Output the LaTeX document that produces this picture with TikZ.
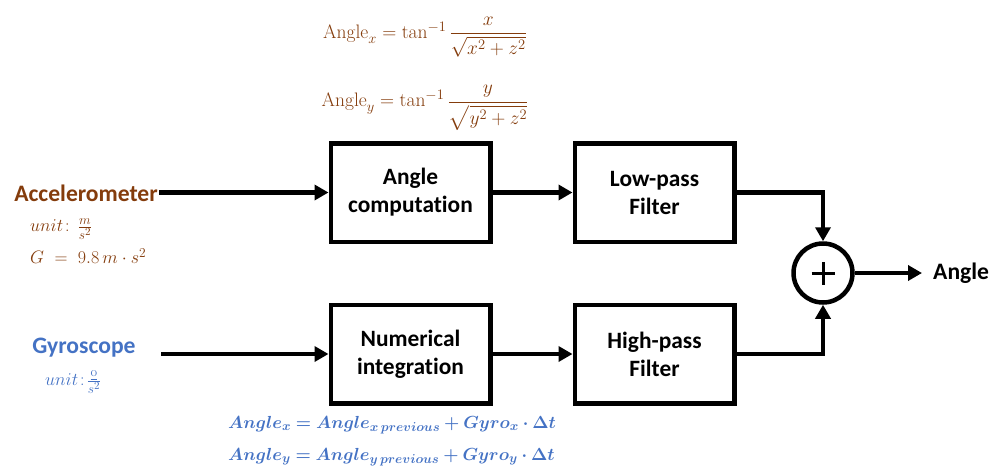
\RequirePackage{fix-cm}
\documentclass[tikz,border=0pt]{standalone}
\usepackage{amsmath}
\usepackage{bm}
\usepackage{fontspec}
\usetikzlibrary{arrows.meta}
\DeclareMathSizes{18}{18}{13.5}{11}
\DeclareMathSizes{19.5}{19.5}{14.5}{11.5}
\DeclareMathSizes{17.5}{17.5}{13}{10}
\newfontfamily\carl[Ligatures=NoCommon]{Carlito}
\definecolor{brn}{HTML}{843C0C}
\definecolor{blu}{HTML}{4472C4}
\begin{document}
\begin{tikzpicture}[x=1pt,y=-1pt,
  box/.style={draw, line width=4.5pt, minimum width=159.5pt, minimum height=98.5pt,
    align=center, inner sep=0pt, font=\carl\bfseries\fontsize{23.4}{28}\selectfont},
  lbl/.style={inner sep=1pt, font=\carl\bfseries\fontsize{23.6}{28}\selectfont},
  conn/.style={line width=4.5pt, -{Triangle[length=14pt,width=15pt]}},
  mth/.style={inner sep=0pt, font=\fontsize{18}{21}\selectfont},
  big/.style={font=\fontsize{19.5}{23}\selectfont},
  bld/.style={font=\fontsize{17.5}{21}\selectfont}]
\useasboundingbox (0,0) rectangle (992,466);
% blocks
\node[box] (ac) at (410.5,192.5) {Angle\\computation};
\node[box] (lp) at (654.5,192.5) {Low-pass\\Filter};
\node[box] (ni) at (410.5,354) {Numerical\\integration};
\node[box] (hp) at (654.5,354) {High-pass\\Filter};
\node[circle, draw, line width=4.5pt, minimum size=59pt, inner sep=0pt] (sum) at (823,273) {};
\draw[line width=3pt] ([xshift=-11.5pt]sum.center) -- ([xshift=11.5pt]sum.center);
\draw[line width=3pt] ([yshift=-11.5pt]sum.center) -- ([yshift=11.5pt]sum.center);
% labels
\node[lbl, text=brn, anchor=east] (acc) at (159,193) {Accelerometer};
\node[lbl, text=blu] (gyro) at (84,348) {Gyroscope};
\node[lbl, anchor=west, inner xsep=11pt, inner ysep=0pt] (ang) at (922,273) {Angle};
\coordinate (gin) at (161,354);
% connectors
\draw[conn] (acc.east |- ac) -- (ac.west);
\draw[conn] (gin) -- (ni.west);
\draw[conn] (ac.east) -- (lp.west);
\draw[conn] (ni.east) -- (hp.west);
\draw[conn] (lp.east) -| (sum.north);
\draw[conn] (hp.east) -| (sum.south);
\draw[conn] (sum.east) -- (ang.west);
% formulas
\node[mth, big, text=brn] (f1) at (425,37)
  {$\mathrm{Angle}_x = \tan^{-1}\dfrac{x}{\sqrt{x^2+z^2}}$};
\node[mth, big, text=brn] (f2) at (425,108)
  {$\mathrm{Angle}_y = \tan^{-1}\dfrac{y}{\sqrt{y^2+z^2}}$};
\node[mth, text=brn, anchor=west] (u1) at (30,229) {$unit\!:\,\frac{m}{s^2}$};
\node[mth, text=brn, anchor=west] (g1) at (30,256) {$G\ =\ 9.8\,m\cdot s^2$};
\node[mth, text=blu, anchor=west] (u2) at (45,382) {$unit\!:\!\frac{\underline{\text{o}}}{s^2}$};
\node[mth, bld, text=blu, anchor=west] (b1) at (228,425)
  {$\bm{Angle_x = Angle_{x\,previous} + Gyro_x\cdot \Delta t}$};
\node[mth, bld, text=blu, anchor=west] (b2) at (228,457)
  {$\bm{Angle_y = Angle_{y\,previous} + Gyro_y\cdot \Delta t}$};
\end{tikzpicture}
\end{document}
